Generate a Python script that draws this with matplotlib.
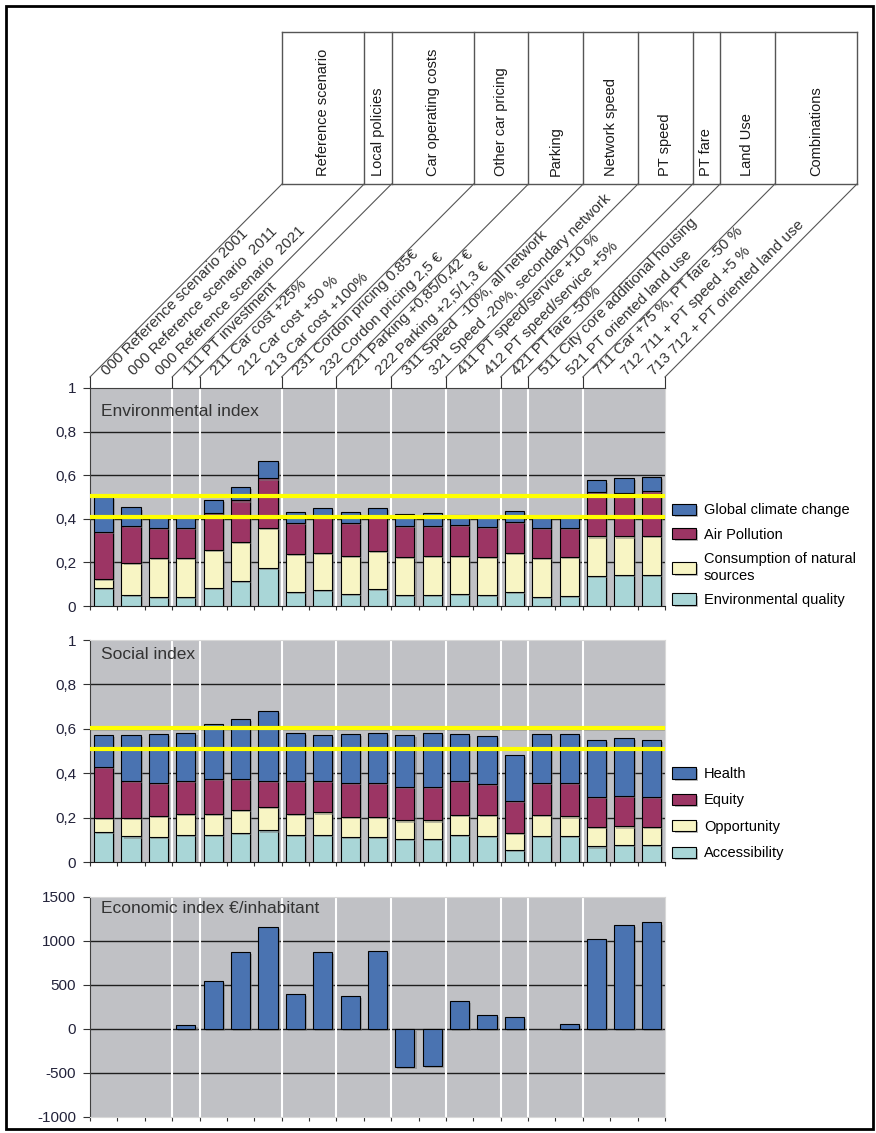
import numpy as np
import matplotlib
matplotlib.use("Agg")
import matplotlib.pyplot as plt
from matplotlib.patches import Rectangle
import matplotlib.patheffects as pe

plt.rcParams['font.family'] = ['Liberation Sans', 'DejaVu Sans']

# scenarios (x categories) and their policy groups
scenarios = [
    '000 Reference scenario 2001', '000 Reference scenario  2011', '000 Reference scenario  2021',
    '111 PT investment', '211 Car cost +25%', '212 Car cost +50 %', '213 Car cost +100%',
    '231 Cordon pricing 0.85€', '232 Cordon pricing 2,5 €', '221 Parking +0,85/0,42 €',
    '222 Parking +2,5/1,3 €', '311 Speed  -10%, all network', '321 Speed -20%, secondary network',
    '411 PT speed/service +10 %', '412 PT speed/service +5%', '421 PT fare -50%',
    '511 City core additional housing', '521 PT oriented land use', '711 Car +75 %, PT fare -50 %',
    '712 711 + PT speed +5 %', '713 712 + PT oriented land use',
]
groups = ['Reference scenario', 'Local policies', 'Car operating costs', 'Other car pricing',
          'Parking', 'Network speed', 'PT speed', 'PT fare', 'Land Use', 'Combinations']
group_sizes = [3, 1, 3, 2, 2, 2, 2, 1, 2, 3]

# environmental index components (bottom -> top)
env_labels = ['Environmental quality', 'Consumption of natural\nsources', 'Air Pollution', 'Global climate change']
env_quality = [0.081, 0.050, 0.043, 0.043, 0.084, 0.116, 0.173, 0.063, 0.074, 0.054, 0.078,
               0.050, 0.050, 0.054, 0.049, 0.066, 0.043, 0.047, 0.138, 0.142, 0.141]
env_consumption = [0.043, 0.149, 0.179, 0.179, 0.173, 0.176, 0.187, 0.176, 0.171, 0.176, 0.173,
                   0.177, 0.181, 0.177, 0.178, 0.176, 0.179, 0.180, 0.181, 0.177, 0.182]
env_air = [0.214, 0.168, 0.138, 0.138, 0.169, 0.192, 0.225, 0.144, 0.165, 0.153, 0.159,
           0.140, 0.136, 0.141, 0.137, 0.145, 0.138, 0.133, 0.206, 0.201, 0.205]
env_climate = [0.164, 0.085, 0.043, 0.043, 0.061, 0.064, 0.081, 0.049, 0.040, 0.049, 0.040,
               0.056, 0.059, 0.046, 0.051, 0.051, 0.043, 0.043, 0.051, 0.067, 0.066]
env_limits = [0.41, 0.506]

# social index components (bottom -> top)
soc_labels = ['Accessibility', 'Opportunity', 'Equity', 'Health']
soc_access = [0.136, 0.115, 0.112, 0.123, 0.123, 0.130, 0.142, 0.123, 0.123, 0.111, 0.111,
              0.105, 0.105, 0.123, 0.118, 0.055, 0.118, 0.118, 0.070, 0.075, 0.075]
soc_opportunity = [0.062, 0.083, 0.096, 0.094, 0.094, 0.105, 0.108, 0.094, 0.100, 0.093, 0.093,
                   0.082, 0.082, 0.090, 0.095, 0.075, 0.095, 0.087, 0.087, 0.085, 0.082]
soc_equity = [0.232, 0.165, 0.150, 0.146, 0.158, 0.140, 0.113, 0.146, 0.140, 0.154, 0.154,
              0.150, 0.150, 0.150, 0.139, 0.146, 0.145, 0.153, 0.138, 0.138, 0.135]
soc_health = [0.141, 0.208, 0.218, 0.219, 0.246, 0.271, 0.319, 0.219, 0.208, 0.219, 0.224,
              0.234, 0.245, 0.213, 0.216, 0.207, 0.218, 0.218, 0.255, 0.260, 0.258]
soc_limits = [0.51, 0.605]

# economic index, euro per inhabitant (nan = no bar)
econ = [np.nan, np.nan, np.nan, 46, 551, 873, 1158, 399, 873, 380, 885,
        -429, -418, 323, 160, 140, np.nan, 57, 1021, 1185, 1211]

idx_ticks = [0, 0.2, 0.4, 0.6, 0.8, 1]
idx_ticklabels = ['0', '0,2', '0,4', '0,6', '0,8', '1']
econ_ticks = [-1000, -500, 0, 500, 1000, 1500]

colors = ['#A9D6D7', '#F8F5C4', '#9C3564', '#4A73B1']
bg = '#C0C1C5'

W, H = 876, 1133
n = len(scenarios)
fig = plt.figure(figsize=(W / 100, H / 100), dpi=100)

# overlay in pixel coordinates for the header table and frame
ax0 = fig.add_axes([0, 0, 1, 1])
ax0.set_xlim(0, W)
ax0.set_ylim(H, 0)
ax0.axis('off')

plot_left, plot_right = 90, 665


def px_axes(top, bottom):
    return fig.add_axes([plot_left / W, 1 - bottom / H, (plot_right - plot_left) / W, (bottom - top) / H])


cum = np.concatenate([[0], np.cumsum(group_sizes)])
x = np.arange(n)
shadow = [pe.SimplePatchShadow(offset=(1.5, -1.5), shadow_rgbFace='#7a7a7a', alpha=0.5), pe.Normal()]


def style(ax, ylim, ticks, ticklabels, grid, top_dark=False, bottom_dark=True):
    ax.set_facecolor(bg)
    ax.set_xlim(-0.5, n - 0.5)
    ax.set_ylim(*ylim)
    ax.set_yticks(ticks)
    ax.set_yticklabels(ticklabels)
    ax.set_xticks(np.arange(n + 1) - 0.5)
    ax.set_xticklabels([])
    ax.tick_params(axis='x', length=3, color='#333333', direction='out')
    ax.tick_params(axis='y', length=5, pad=5, labelsize=11, labelcolor='#22223A', color='#333333')
    for g in grid:
        ax.axhline(g, color='#1E1E1E', lw=1, zorder=1)
    for b in cum[1:-1]:
        ax.axvline(b - 0.5, color='white', lw=1.5, zorder=1)
    ax.spines['left'].set_color('#404040')
    ax.spines['right'].set_color('#D8D8D8')
    ax.spines['top'].set_color('#404040' if top_dark else '#D8D8D8')
    ax.spines['bottom'].set_color('#1E1E1E' if bottom_dark else '#D8D8D8')


def stacked(ax, series, labels, limits, leg_anchor, spacing):
    bottom = np.zeros(n)
    handles = []
    for vals, col in zip(series, colors):
        h = ax.bar(x, vals, 0.7, bottom=bottom, color=col, edgecolor='black', lw=0.8, zorder=3)
        for p in h:
            p.set_path_effects(shadow)
        handles.append(h)
        bottom = bottom + np.array(vals)
    for lim in limits:
        ax.axhline(lim, color='#FFFF00', lw=3, zorder=5)
    ax.legend(handles[::-1], labels[::-1], loc='lower left', bbox_to_anchor=leg_anchor,
              frameon=False, fontsize=10.5, handlelength=1.6, handleheight=0.8,
              handletextpad=0.55, labelspacing=spacing, borderpad=0, borderaxespad=0)


# environmental
ax1 = px_axes(388, 606)
style(ax1, (0, 1), idx_ticks, idx_ticklabels, [0.2, 0.4, 0.6, 0.8], top_dark=True)
stacked(ax1, [env_quality, env_consumption, env_air, env_climate], env_labels, env_limits,
        (1.013, -0.005), 0.72)
ax1.text(0.019, 0.891, 'Environmental index', transform=ax1.transAxes, fontsize=12.5,
         color='#333333', va='center', zorder=6)

# social
ax2 = px_axes(640, 862)
style(ax2, (0, 1), idx_ticks, idx_ticklabels, [0.2, 0.4, 0.6, 0.8])
stacked(ax2, [soc_access, soc_opportunity, soc_equity, soc_health], soc_labels, soc_limits,
        (1.013, 0.008), 0.85)
ax2.text(0.019, 0.933, 'Social index', transform=ax2.transAxes, fontsize=12.5,
         color='#333333', va='center', zorder=6)

# economic
ax3 = px_axes(897, 1117)
style(ax3, (-1000, 1500), econ_ticks, [str(t) for t in econ_ticks], [-500, 0, 500, 1000],
      bottom_dark=False)
eb = ax3.bar(x, econ, 0.7, color=colors[3], edgecolor='black', lw=0.8, zorder=3)
for p in eb:
    p.set_path_effects(shadow)
ax3.text(0.019, 0.949, 'Economic index €/inhabitant', transform=ax3.transAxes, fontsize=12.5,
         color='#333333', va='center', zorder=6)

# header table with slanted scenario labels
slot = (plot_right - plot_left) / n
bx = plot_left + cum * slot
shift, head_top, head_bot, diag_bot, axis_top = 192, 32, 184, 377, 388
lc = '#555555'
ax0.plot([bx[0] + shift, bx[-1] + shift], [head_top, head_top], color=lc, lw=1)
ax0.plot([bx[0] + shift, bx[-1] + shift], [head_bot, head_bot], color=lc, lw=1)
for b in bx:
    ax0.plot([b + shift, b + shift], [head_top, head_bot], color=lc, lw=1)
    ax0.plot([b, b + shift], [diag_bot, head_bot], color=lc, lw=0.8)
    ax0.plot([b, b], [diag_bot, axis_top], color='#333333', lw=0.8)
for i, g in enumerate(groups):
    ax0.text((bx[i] + bx[i + 1]) / 2 + shift, 176, g, rotation=90, ha='center', va='bottom',
             fontsize=10.5, color='#1A1A1A')
for i, s in enumerate(scenarios):
    ax0.text(plot_left + (i + 0.5) * slot + 3, 376, s, rotation=45, rotation_mode='anchor',
             ha='left', va='baseline', fontsize=11, color='#333333')

ax0.add_patch(Rectangle((6, 6), 867, 1123, fill=False, lw=2, ec='black'))

fig.savefig('out.png', dpi=100)
